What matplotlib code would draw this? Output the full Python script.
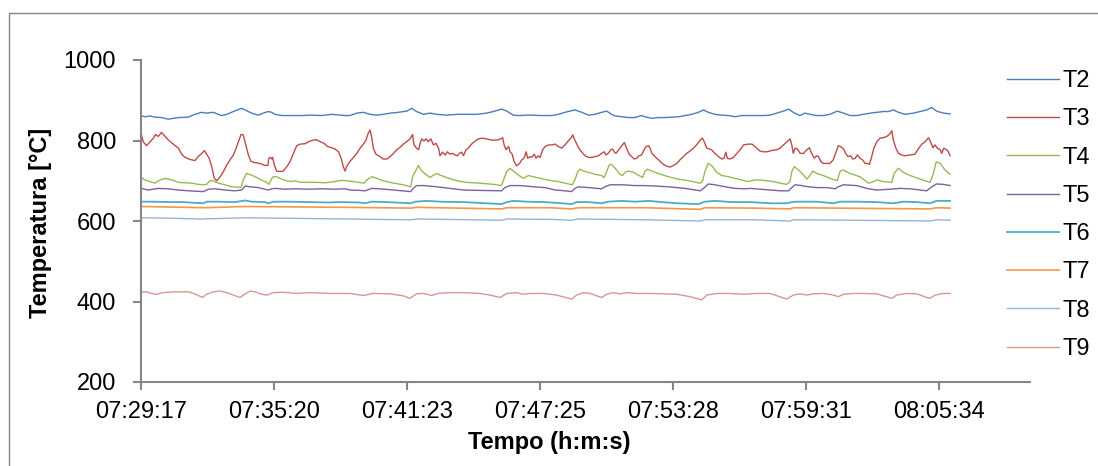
import numpy as np
from matplotlib import pyplot as plt
from matplotlib.patches import Rectangle

plt.rcParams['font.family'] = ['Liberation Sans', 'DejaVu Sans']

# (segundos desde 07:29:17, temperatura em °C)
T2 = [(0, 862), (11, 859), (24, 861), (38, 858), (56, 857), (74, 853), (102, 857), (129, 858), (147, 865), (165, 870),
      (179, 868), (197, 870), (220, 862), (234, 865), (252, 872), (275, 880), (284, 876), (302, 868), (320, 863),
      (334, 868), (347, 872), (357, 870), (366, 865), (384, 862), (411, 862), (438, 862), (466, 863), (493, 862),
      (520, 865), (557, 862), (570, 862), (589, 868), (607, 870), (625, 865), (643, 863), (661, 865), (680, 868),
      (702, 870), (725, 873), (739, 880), (752, 872), (771, 865), (789, 868), (807, 865), (834, 863), (862, 865),
      (889, 865), (916, 865), (943, 868), (962, 872), (984, 878), (998, 873), (1016, 863), (1034, 862), (1053, 863),
      (1071, 863), (1089, 862), (1121, 862), (1139, 865), (1157, 870), (1184, 876), (1203, 870), (1221, 863),
      (1239, 865), (1257, 870), (1271, 873), (1284, 865), (1294, 861), (1312, 859), (1330, 857), (1348, 857),
      (1366, 862), (1375, 859), (1394, 855), (1412, 857), (1430, 857), (1448, 858), (1466, 859), (1485, 862),
      (1503, 865), (1521, 870), (1535, 876), (1548, 870), (1566, 865), (1585, 863), (1603, 862), (1621, 859),
      (1639, 862), (1657, 862), (1680, 862), (1698, 862), (1717, 863), (1735, 868), (1753, 873), (1767, 878),
      (1780, 870), (1798, 862), (1812, 868), (1826, 865), (1844, 862), (1862, 862), (1880, 865), (1900, 873),
      (1917, 868), (1935, 862), (1953, 862), (1971, 865), (1990, 868), (2008, 870), (2026, 872), (2040, 872),
      (2053, 876), (2067, 870), (2085, 865), (2108, 868), (2126, 872), (2144, 876), (2158, 882), (2171, 873),
      (2190, 868), (2208, 866)]

T3 = [(0, 818), (6, 797), (15, 787), (25, 797), (34, 806), (40, 815), (47, 810), (56, 820), (66, 810), (75, 801),
      (88, 791), (102, 781), (111, 766), (120, 758), (134, 753), (147, 750), (156, 760), (166, 768), (173, 775),
      (179, 766), (186, 756), (193, 735), (200, 706), (207, 700), (216, 710), (225, 723), (234, 739), (243, 752),
      (252, 764), (258, 777), (266, 797), (273, 815), (279, 814), (286, 789), (293, 764), (300, 748), (311, 745),
      (325, 743), (338, 738), (346, 738), (349, 756), (353, 758), (357, 754), (359, 758), (364, 739), (370, 724),
      (379, 723), (388, 724), (398, 735), (407, 748), (416, 768), (425, 787), (434, 791), (448, 792), (457, 797),
      (470, 801), (479, 802), (489, 797), (495, 795), (502, 791), (509, 785), (520, 782), (529, 779), (539, 772),
      (546, 756), (552, 735), (557, 724), (561, 735), (570, 748), (580, 758), (589, 768), (598, 781), (607, 791),
      (614, 801), (620, 818), (625, 826), (630, 806), (634, 781), (641, 766), (652, 760), (661, 754), (671, 754),
      (680, 760), (689, 768), (698, 777), (707, 783), (716, 791), (725, 797), (734, 804), (741, 815), (745, 789),
      (752, 781), (758, 777), (761, 791), (766, 804), (772, 799), (778, 804), (784, 797), (791, 804), (798, 789),
      (805, 793), (812, 781), (816, 762), (823, 771), (830, 764), (836, 772), (843, 766), (851, 768), (857, 764),
      (863, 762), (869, 768), (875, 771), (880, 762), (887, 777), (893, 781), (902, 791), (912, 799), (921, 804),
      (930, 806), (943, 804), (957, 801), (971, 801), (982, 804), (987, 807), (991, 789), (996, 777), (1003, 785),
      (1007, 772), (1013, 766), (1018, 748), (1025, 737), (1033, 743), (1039, 752), (1045, 756), (1051, 772),
      (1055, 756), (1062, 760), (1066, 758), (1073, 766), (1078, 756), (1084, 762), (1089, 758), (1096, 777),
      (1103, 785), (1112, 789), (1121, 789), (1130, 791), (1139, 785), (1148, 781), (1157, 789), (1166, 799),
      (1174, 807), (1178, 814), (1184, 801), (1194, 782), (1203, 771), (1212, 762), (1221, 758), (1230, 758),
      (1239, 760), (1248, 762), (1257, 768), (1264, 772), (1269, 764), (1275, 768), (1282, 777), (1287, 779),
      (1292, 771), (1296, 768), (1301, 774), (1307, 781), (1314, 789), (1319, 795), (1325, 781), (1332, 766),
      (1339, 760), (1346, 754), (1353, 756), (1359, 762), (1366, 764), (1373, 777), (1378, 785), (1385, 787),
      (1389, 781), (1394, 768), (1401, 762), (1407, 756), (1416, 749), (1425, 741), (1435, 736), (1444, 734),
      (1453, 738), (1462, 743), (1471, 752), (1480, 760), (1489, 768), (1503, 777), (1516, 789), (1526, 801),
      (1532, 806), (1537, 797), (1544, 781), (1551, 779), (1557, 777), (1566, 768), (1576, 760), (1585, 754),
      (1591, 756), (1596, 771), (1600, 756), (1607, 754), (1617, 758), (1626, 768), (1635, 777), (1644, 789),
      (1657, 791), (1667, 791), (1676, 785), (1680, 781), (1689, 774), (1698, 772), (1708, 772), (1717, 774),
      (1726, 776), (1735, 777), (1744, 781), (1753, 789), (1762, 796), (1771, 804), (1776, 789), (1780, 768),
      (1785, 781), (1791, 779), (1799, 768), (1808, 768), (1817, 777), (1824, 782), (1830, 768), (1837, 756),
      (1844, 762), (1849, 760), (1855, 748), (1862, 743), (1871, 743), (1880, 743), (1889, 752), (1897, 772),
      (1903, 787), (1909, 785), (1917, 779), (1924, 766), (1930, 760), (1937, 762), (1942, 754), (1949, 756),
      (1955, 764), (1962, 756), (1970, 751), (1976, 743), (1982, 743), (1988, 741), (1994, 760), (2000, 781),
      (2008, 797), (2017, 806), (2026, 807), (2035, 810), (2042, 815), (2049, 824), (2053, 801), (2060, 781),
      (2067, 768), (2076, 764), (2085, 762), (2099, 764), (2112, 766), (2121, 779), (2131, 791), (2140, 797),
      (2149, 807), (2155, 796), (2161, 782), (2167, 789), (2173, 781), (2181, 777), (2185, 768), (2191, 781),
      (2199, 777), (2203, 772), (2208, 762)]

T4 = [(0, 708), (11, 702), (24, 698), (38, 694), (52, 702), (65, 706), (84, 702), (102, 696), (120, 695), (138, 694),
      (156, 691), (173, 690), (179, 691), (188, 700), (197, 700), (211, 694), (229, 690), (247, 685), (266, 684),
      (273, 684), (279, 702), (288, 718), (302, 714), (316, 708), (329, 702), (343, 696), (349, 691), (357, 706),
      (361, 710), (370, 710), (384, 704), (397, 700), (411, 698), (420, 700), (434, 696), (457, 696), (479, 696),
      (502, 695), (529, 698), (548, 701), (561, 700), (580, 698), (593, 696), (609, 694), (616, 702), (630, 710),
      (643, 706), (661, 700), (689, 694), (716, 690), (736, 685), (741, 710), (751, 727), (757, 738), (766, 724),
      (780, 714), (789, 708), (798, 714), (807, 718), (816, 714), (834, 708), (862, 700), (889, 696), (925, 694),
      (962, 691), (984, 688), (991, 706), (998, 723), (1007, 731), (1016, 724), (1030, 714), (1043, 706),
      (1057, 713), (1071, 710), (1089, 706), (1121, 700), (1139, 698), (1157, 694), (1177, 690), (1184, 702),
      (1192, 723), (1198, 729), (1207, 724), (1221, 721), (1239, 716), (1257, 713), (1264, 708), (1271, 723),
      (1277, 738), (1283, 741), (1294, 731), (1307, 716), (1314, 713), (1321, 721), (1330, 724), (1344, 721),
      (1357, 714), (1369, 708), (1375, 723), (1382, 729), (1394, 724), (1412, 718), (1439, 710), (1466, 704),
      (1494, 700), (1526, 694), (1532, 698), (1539, 723), (1548, 743), (1557, 738), (1571, 721), (1585, 713),
      (1603, 710), (1621, 706), (1639, 702), (1657, 698), (1676, 702), (1689, 702), (1707, 700), (1726, 698),
      (1744, 694), (1762, 691), (1771, 698), (1776, 723), (1783, 735), (1794, 727), (1808, 714), (1817, 704),
      (1826, 714), (1833, 724), (1844, 718), (1862, 713), (1880, 706), (1900, 700), (1908, 724), (1915, 727),
      (1935, 718), (1962, 710), (1985, 694), (1999, 698), (2008, 702), (2026, 698), (2049, 696), (2055, 718),
      (2067, 731), (2080, 721), (2099, 713), (2126, 704), (2153, 696), (2161, 714), (2170, 747), (2181, 743),
      (2194, 727), (2208, 716)]

T5 = [(0, 681), (20, 677), (47, 681), (74, 680), (102, 677), (129, 675), (170, 673), (184, 679), (202, 680),
      (229, 677), (256, 675), (275, 677), (284, 687), (297, 685), (320, 683), (347, 677), (357, 680), (366, 681),
      (393, 679), (420, 680), (457, 679), (493, 680), (529, 679), (557, 680), (570, 677), (598, 676), (611, 675),
      (630, 681), (652, 680), (689, 677), (736, 673), (743, 681), (752, 688), (771, 688), (807, 685), (843, 681),
      (880, 677), (925, 676), (984, 675), (993, 683), (1007, 688), (1034, 688), (1071, 685), (1103, 683),
      (1130, 677), (1157, 675), (1175, 673), (1184, 681), (1193, 685), (1221, 683), (1257, 680), (1266, 685),
      (1280, 690), (1312, 690), (1348, 688), (1375, 688), (1403, 687), (1439, 685), (1485, 681), (1526, 675),
      (1535, 681), (1548, 692), (1566, 690), (1594, 685), (1621, 681), (1648, 680), (1662, 681), (1689, 679),
      (1717, 677), (1744, 675), (1767, 675), (1776, 683), (1785, 690), (1803, 688), (1821, 685), (1844, 683),
      (1871, 683), (1894, 680), (1903, 685), (1917, 690), (1953, 688), (1985, 680), (2008, 677), (2044, 679),
      (2071, 681), (2099, 680), (2144, 675), (2158, 685), (2171, 692), (2190, 691), (2208, 688)]

T6 = [(0, 648), (38, 648), (74, 647), (111, 647), (170, 644), (179, 648), (211, 648), (256, 647), (284, 651),
      (302, 648), (338, 647), (347, 644), (361, 648), (402, 648), (457, 647), (511, 646), (543, 647), (598, 646),
      (611, 644), (630, 648), (670, 647), (736, 644), (748, 648), (780, 650), (816, 648), (880, 647), (943, 644),
      (984, 642), (998, 647), (1016, 650), (1053, 648), (1103, 647), (1148, 644), (1175, 642), (1189, 647),
      (1221, 647), (1257, 644), (1275, 648), (1312, 650), (1348, 648), (1385, 650), (1421, 647), (1466, 644),
      (1521, 642), (1539, 648), (1566, 650), (1612, 647), (1662, 647), (1717, 644), (1762, 644), (1776, 647),
      (1789, 648), (1844, 648), (1889, 644), (1908, 648), (1953, 648), (2008, 647), (2053, 644), (2080, 648),
      (2117, 647), (2153, 644), (2171, 650), (2208, 650)]

T7 = [(0, 636), (120, 634), (175, 633), (284, 636), (557, 634), (736, 632), (752, 634), (984, 630), (998, 633),
      (1116, 633), (1175, 630), (1193, 633), (1375, 633), (1526, 629), (1539, 633), (1676, 632), (1771, 630),
      (1780, 633), (1899, 632), (2153, 630), (2171, 633), (2208, 632)]

T8 = [(0, 608), (74, 607), (165, 605), (284, 608), (557, 605), (736, 603), (752, 605), (984, 602), (998, 605),
      (1116, 604), (1175, 602), (1193, 605), (1375, 603), (1526, 600), (1539, 603), (1676, 603), (1771, 600),
      (1780, 603), (1935, 602), (2153, 600), (2171, 603), (2208, 602)]

T9 = [(0, 423), (15, 424), (29, 420), (43, 418), (61, 422), (88, 424), (106, 424), (129, 424), (143, 420),
      (156, 415), (168, 410), (179, 418), (197, 424), (216, 426), (234, 422), (252, 416), (270, 410), (284, 419),
      (298, 426), (311, 424), (329, 418), (343, 416), (361, 422), (388, 423), (425, 420), (461, 422), (516, 420),
      (570, 420), (607, 415), (634, 420), (680, 419), (716, 414), (734, 408), (752, 419), (771, 420), (793, 415),
      (811, 420), (843, 422), (880, 422), (925, 420), (952, 416), (980, 410), (998, 420), (1025, 422), (1043, 418),
      (1062, 420), (1098, 420), (1134, 416), (1175, 406), (1189, 416), (1207, 422), (1225, 420), (1244, 414),
      (1257, 410), (1271, 418), (1289, 422), (1307, 419), (1325, 422), (1353, 420), (1389, 420), (1426, 419),
      (1462, 418), (1498, 412), (1530, 404), (1544, 416), (1571, 420), (1607, 420), (1644, 418), (1680, 420),
      (1717, 420), (1762, 406), (1780, 416), (1799, 419), (1817, 416), (1835, 419), (1862, 420), (1889, 416),
      (1903, 412), (1917, 418), (1944, 420), (1971, 420), (2008, 419), (2049, 408), (2062, 416), (2090, 420),
      (2117, 419), (2144, 410), (2153, 408), (2167, 416), (2190, 420), (2208, 420)]

names = ['T2', 'T3', 'T4', 'T5', 'T6', 'T7', 'T8', 'T9']
data = [T2, T3, T4, T5, T6, T7, T8, T9]
colors = ['#4A7EBB', '#BE4B48', '#98B954', '#7D60A0', '#4BACC6', '#F79646', '#95B3D7', '#D99694']
widths = [1.0, 1.0, 1.0, 1.0, 1.3, 1.2, 1.0, 1.0]

time_labels = ['07:29:17', '07:35:20', '07:41:23', '07:47:25', '07:53:28', '07:59:31', '08:05:34']
y_ticks = [200, 400, 600, 800, 1000]


def to_sec(hms):
    h, m, s = [int(p) for p in hms.split(':')]
    return h * 3600 + m * 60 + s


t0 = to_sec(time_labels[0])
tick_pos = [to_sec(lbl) - t0 for lbl in time_labels]

W, H = 1098, 466
fig = plt.figure(figsize=(W / 100, H / 100), dpi=100)
ax = fig.add_axes([141 / W, 1 - 382 / H, (1030 - 141) / W, (382 - 60) / H])

for name, serie, c, lw in zip(names, data, colors, widths):
    t, v = zip(*serie)
    ax.plot(t, v, color=c, lw=lw, label=name)

ax.set_xlim(0, 2426)
ax.set_ylim(200, 1000)
ax.set_yticks(y_ticks)
ax.set_xticks(tick_pos)
ax.set_xticklabels(time_labels)

grey = '#868686'
for s in ['top', 'right']:
    ax.spines[s].set_visible(False)
for s in ['left', 'bottom']:
    ax.spines[s].set_color(grey)
    ax.spines[s].set_linewidth(1.5)
ax.tick_params(direction='out', length=6, width=1.5, color=grey, labelsize=17)
ax.tick_params(axis='x', pad=8)
ax.tick_params(axis='y', pad=12)

fig.text(549 / W, 1 - 443 / H, 'Tempo (h:m:s)', ha='center', va='center', fontsize=17, fontweight='bold')
fig.text(41 / W, 1 - 223 / H, 'Temperatura [°C]', ha='center', va='center', rotation=90,
         fontsize=17, fontweight='bold')

fig.legend(loc='upper left', bbox_to_anchor=(1007 / W, 1 - 70 / H), frameon=False, fontsize=17,
           handlelength=2.2, handletextpad=0.15, labelspacing=0.69, borderpad=0, borderaxespad=0)

# moldura do gráfico
fig.add_artist(Rectangle((9 / W, -0.1), 1.2, 1.1 - 13 / H, transform=fig.transFigure,
                         fill=False, edgecolor=grey, lw=1.0))

fig.savefig('out.png', dpi=100)
